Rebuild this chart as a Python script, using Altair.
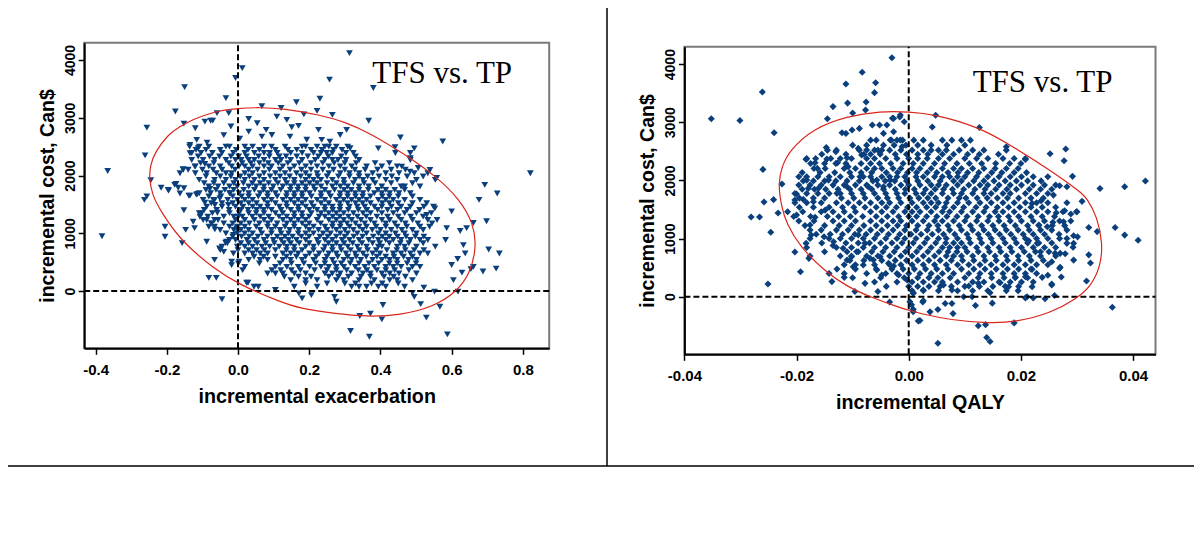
import altair as alt
import pandas as pd

# ---------------- data ----------------
Y_DOMAIN = [-990, 4300]
Y_TICKS = [0, 1000, 2000, 3000, 4000]
X_TICKS_EXAC = [-0.4, -0.2, 0.0, 0.2, 0.4, 0.6, 0.8]
X_TICKS_QALY = [-0.04, -0.02, 0.0, 0.02, 0.04]
X_DOMAIN_EXAC = [-0.432, 0.874]
X_DOMAIN_QALY = [-0.04, 0.044]
PANEL_LABEL = "TFS vs. TP"
Y_TITLE = "incremental cost, Can$"
X_TITLE_EXAC = "incremental exacerbation"
X_TITLE_QALY = "incremental QALY"

# left panel: sparse / outlying simulations (incremental exacerbation, incremental cost)
EXAC_SPARSE = [
    (0.313, 4120), (0.012, 3860), (-0.007, 3690), (0.257, 3660), (0.380, 3515), (-0.150, 3530),
    (-0.034, 3340), (0.230, 3330), (0.164, 3270), (0.067, 3200), (0.121, 3170), (-0.176, 3110),
    (-0.026, 3080), (-0.059, 3080), (0.222, 3120), (0.265, 3050), (0.185, 3060), (0.367, 2950),
    (-0.256, 2830), (-0.152, 2900), (-0.120, 2820), (-0.077, 2950), (0.575, 2590), (0.456, 2660),
    (0.394, 2470), (0.495, 2470), (0.484, 2300), (-0.261, 2350), (-0.366, 2080), (0.821, 2040),
    (-0.245, 1920), (0.693, 1840), (0.728, 1690), (0.677, 1580), (-0.263, 1580), (-0.256, 1640),
    (-0.382, 950), (0.698, 1210), (0.661, 1180), (0.600, 1380), (0.642, 1090), (0.586, 1090),
    (0.704, 720), (0.734, 650), (0.725, 390), (0.688, 340), (0.661, 420), (0.629, 320),
    (0.605, 190), (0.618, -10), (0.588, -750), (0.567, -270), (0.529, -460), (0.513, -225),
    (0.552, -10), (0.522, 60), (0.495, -100), (0.490, -30), (0.407, -240), (0.404, -490),
    (0.372, -390), (0.342, -430), (0.369, -790), (0.316, -690), (0.276, -185), (0.271, -100),
    (0.180, -125), (0.171, -40), (0.206, -70), (-0.045, -140), (0.105, 20), (0.045, 75),
    (0.028, 145), (-0.082, 230), (-0.061, 230), (-0.018, 450), (0.003, 510), (-0.066, 540),
    (-0.050, 710), (-0.040, 680), (-0.088, 855), (-0.157, 830), (-0.205, 940), (-0.205, 1115),
    (-0.147, 1060), (-0.122, 1090), (-0.152, 1400), (-0.163, 1690), (-0.152, 1780), (-0.138, 1650),
    (-0.114, 1680), (-0.216, 1790), (-0.195, 1740), (-0.178, 1840), (-0.168, 1790), (-0.154, 2100),
    (0.539, 2097), (0.558, 1958), (0.483, 2068), (0.506, 2130), (0.460, 2154), (0.583, 884),
    (0.617, 555), (0.600, 451), (0.633, 797), (0.638, 653), (0.624, 1040), (0.553, 1433),
    (0.530, 1317), (0.654, 381), (-0.035, 838), (-0.052, 740), (-0.018, 508), (0.001, 480),
    (0.013, 364), (0.024, 144), (0.057, 75), (-0.093, 2934), (-0.071, 2952), (0.054, 2906),
    (0.079, 2790), (0.109, 3021), (0.137, 2964), (0.170, 2860), (0.226, 2790), (0.067, 2674),
    (0.095, 2703), (-0.116, 2617), (-0.135, 2530), (-0.087, 2570), (0.151, 2837), (0.305, 2790),
    (0.287, 2703), (0.258, 2588), (0.235, 2617), (0.146, 2674), (0.315, 2473), (0.441, 2490),
    (0.193, 2620), (0.030, 2760), (0.005, 2640), (-0.040, 2700), (-0.020, 2850), (0.030, 2980),
    (-0.196, 1750), (-0.174, 1854), (-0.135, 1652), (-0.117, 1670), (-0.093, 2201), (-0.121, 2154),
    (-0.154, 2109), (-0.135, 2386), (-0.112, 2473), (-0.093, 1530), (-0.079, 1768), (-0.065, 1490),
    (-0.058, 1357), (-0.088, 1230), (-0.074, 1173), (-0.065, 1069), (-0.032, 855), (-0.013, 971),
    (-0.004, 1087), (0.001, 1288), (-0.107, 1288), (-0.126, 1201), (-0.102, 1347), (-0.069, 1577),
    (-0.051, 1607), (-0.027, 1490), (-0.022, 1693),
]

# left panel: dense core, read row by row (incremental cost, [incremental exacerbation ...])
EXAC_CORE = [
    (2500, [-0.136, -0.109, -0.082, -0.034, -0.024, 0.019, 0.041, 0.073, 0.094, 0.132, 0.180, 0.190, 0.222, 0.244, 0.255, 0.276, 0.308]),
    (2390, [-0.130, -0.104, -0.072, -0.045, -0.013, 0.019, 0.046, 0.073, 0.089, 0.110, 0.148, 0.180, 0.212, 0.233, 0.249, 0.265, 0.303, 0.324, 0.442, 0.484]),
    (2270, [-0.130, -0.098, -0.066, -0.034, -0.007, 0.009, 0.030, 0.046, 0.073, 0.105, 0.121, 0.148, 0.180, 0.217, 0.244, 0.265, 0.281, 0.303, 0.340, 0.484]),
    (2160, [-0.120, -0.082, -0.050, -0.018, 0.003, 0.019, 0.041, 0.073, 0.094, 0.126, 0.158, 0.190, 0.222, 0.255, 0.287, 0.319, 0.361, 0.404, 0.447]),
    (2040, [-0.163, -0.120, -0.088, -0.061, -0.034, -0.018, 0.019, 0.041, 0.073, 0.105, 0.132, 0.164, 0.190, 0.222, 0.255, 0.287, 0.313, 0.340, 0.378, 0.415, 0.452, 0.495, 0.533]),
    (1925, [-0.109, -0.066, -0.034, -0.007, 0.019, 0.046, 0.073, 0.105, 0.132, 0.158, 0.190, 0.212, 0.233, 0.265, 0.297, 0.329, 0.351, 0.378, 0.415, 0.447, 0.501, 0.554]),
    (1810, [-0.082, -0.056, -0.024, -0.002, 0.030, 0.051, 0.073, 0.099, 0.126, 0.148, 0.169, 0.190, 0.212, 0.233, 0.265, 0.287, 0.308, 0.340, 0.367, 0.404, 0.458, 0.468, 0.511]),
    (1695, [-0.109, -0.077, -0.050, -0.024, 0.003, 0.030, 0.062, 0.083, 0.105, 0.137, 0.158, 0.180, 0.201, 0.233, 0.255, 0.287, 0.308, 0.329, 0.351, 0.383, 0.404, 0.426, 0.452, 0.484]),
    (1580, [-0.098, -0.066, -0.029, -0.002, 0.019, 0.041, 0.073, 0.094, 0.126, 0.148, 0.169, 0.190, 0.222, 0.244, 0.276, 0.297, 0.319, 0.340, 0.361, 0.394, 0.415, 0.436, 0.468, 0.511]),
    (1460, [-0.088, -0.045, -0.007, 0.014, 0.041, 0.062, 0.083, 0.116, 0.137, 0.169, 0.190, 0.212, 0.244, 0.265, 0.287, 0.313, 0.335, 0.356, 0.383, 0.404, 0.431, 0.458, 0.484, 0.522, 0.549]),
    (1350, [-0.109, -0.072, -0.024, 0.003, 0.030, 0.051, 0.073, 0.105, 0.126, 0.158, 0.180, 0.206, 0.233, 0.255, 0.276, 0.297, 0.324, 0.351, 0.372, 0.404, 0.436, 0.468, 0.501, 0.543]),
    (1230, [-0.098, -0.066, -0.056, -0.007, 0.019, 0.046, 0.073, 0.094, 0.126, 0.148, 0.169, 0.190, 0.222, 0.255, 0.276, 0.297, 0.319, 0.345, 0.372, 0.404, 0.426, 0.458, 0.490, 0.533, 0.559]),
    (1115, [-0.082, -0.066, -0.024, -0.002, 0.019, 0.051, 0.083, 0.105, 0.132, 0.158, 0.190, 0.212, 0.244, 0.265, 0.287, 0.313, 0.340, 0.361, 0.388, 0.415, 0.447, 0.474, 0.511, 0.538]),
    (1000, [-0.034, -0.002, 0.019, 0.041, 0.067, 0.094, 0.121, 0.142, 0.169, 0.190, 0.212, 0.239, 0.260, 0.287, 0.308, 0.335, 0.361, 0.394, 0.415, 0.442, 0.468, 0.501]),
    (885, [-0.024, -0.007, 0.025, 0.046, 0.073, 0.099, 0.121, 0.142, 0.164, 0.190, 0.222, 0.244, 0.265, 0.292, 0.313, 0.340, 0.367, 0.394, 0.415, 0.436, 0.458, 0.484, 0.511, 0.533]),
    (770, [-0.045, -0.002, 0.019, 0.041, 0.067, 0.089, 0.116, 0.137, 0.158, 0.190, 0.212, 0.244, 0.265, 0.287, 0.308, 0.335, 0.361, 0.394, 0.404, 0.447, 0.468, 0.501, 0.554]),
    (650, [-0.013, 0.019, 0.041, 0.062, 0.083, 0.126, 0.148, 0.169, 0.201, 0.228, 0.255, 0.276, 0.303, 0.329, 0.351, 0.378, 0.399, 0.436, 0.458, 0.484, 0.511, 0.533]),
    (540, [0.030, 0.062, 0.083, 0.126, 0.148, 0.180, 0.212, 0.244, 0.265, 0.297, 0.319, 0.345, 0.378, 0.404, 0.426, 0.447, 0.479, 0.501]),
    (420, [0.019, 0.105, 0.137, 0.169, 0.201, 0.233, 0.255, 0.276, 0.297, 0.329, 0.356, 0.383, 0.415, 0.436, 0.458, 0.490, 0.511]),
    (305, [0.083, 0.105, 0.126, 0.158, 0.190, 0.244, 0.265, 0.287, 0.319, 0.351, 0.372, 0.404, 0.426, 0.452, 0.501]),
    (190, [0.148, 0.190, 0.222, 0.276, 0.297, 0.340, 0.383, 0.426, 0.447, 0.490]),
    (75, [0.158, 0.222, 0.319, 0.340, 0.361, 0.394, 0.415, 0.468]),
]

# left panel: the overlapping points between the rows above (estimated)
EXAC_CORE_B = [
    (2445, [-0.118, -0.090, -0.050, -0.005, 0.028, 0.060, 0.105, 0.140, 0.165, 0.205, 0.236, 0.268, 0.292]),
    (2330, [-0.112, -0.080, -0.052, -0.020, 0.002, 0.024, 0.058, 0.088, 0.116, 0.135, 0.165, 0.196, 0.226, 0.254, 0.290, 0.330]),
    (2215, [-0.105, -0.068, -0.026, 0.012, 0.036, 0.060, 0.085, 0.113, 0.140, 0.172, 0.205, 0.238, 0.270, 0.300, 0.332, 0.385, 0.425]),
    (2100, [-0.140, -0.100, -0.070, -0.045, -0.008, 0.030, 0.055, 0.088, 0.118, 0.146, 0.178, 0.205, 0.238, 0.268, 0.300, 0.328, 0.357, 0.392, 0.430, 0.470]),
    (1983, [-0.090, -0.050, -0.020, 0.006, 0.032, 0.060, 0.090, 0.118, 0.145, 0.176, 0.200, 0.224, 0.250, 0.282, 0.313, 0.340, 0.364, 0.396, 0.432, 0.475, 0.520]),
    (1868, [-0.095, -0.068, -0.040, -0.012, 0.015, 0.040, 0.062, 0.086, 0.112, 0.137, 0.158, 0.180, 0.201, 0.222, 0.250, 0.276, 0.298, 0.324, 0.354, 0.385, 0.430, 0.490]),
    (1752, [-0.090, -0.062, -0.037, -0.012, 0.016, 0.046, 0.072, 0.094, 0.120, 0.147, 0.168, 0.190, 0.216, 0.244, 0.271, 0.298, 0.318, 0.340, 0.366, 0.393, 0.415, 0.440, 0.468]),
    (1638, [-0.082, -0.048, -0.015, 0.010, 0.030, 0.057, 0.083, 0.110, 0.136, 0.158, 0.180, 0.206, 0.233, 0.260, 0.286, 0.308, 0.330, 0.350, 0.372, 0.405, 0.425, 0.450, 0.490]),
    (1520, [-0.075, -0.045, -0.015, 0.008, 0.030, 0.052, 0.083, 0.105, 0.136, 0.158, 0.180, 0.206, 0.233, 0.255, 0.286, 0.308, 0.330, 0.350, 0.372, 0.405, 0.425, 0.450, 0.490, 0.530]),
    (1405, [-0.095, -0.060, -0.025, 0.008, 0.028, 0.052, 0.072, 0.094, 0.121, 0.148, 0.170, 0.200, 0.222, 0.244, 0.266, 0.286, 0.310, 0.338, 0.362, 0.392, 0.420, 0.448, 0.475, 0.510]),
    (1290, [-0.085, -0.040, -0.012, 0.012, 0.040, 0.062, 0.086, 0.115, 0.137, 0.158, 0.180, 0.200, 0.228, 0.244, 0.266, 0.286, 0.310, 0.335, 0.360, 0.390, 0.420, 0.450, 0.485, 0.520]),
    (1172, [-0.075, -0.040, -0.015, 0.008, 0.032, 0.060, 0.084, 0.110, 0.137, 0.158, 0.180, 0.200, 0.232, 0.266, 0.288, 0.306, 0.330, 0.356, 0.383, 0.415, 0.440, 0.470, 0.505, 0.545]),
    (1058, [-0.050, -0.012, 0.008, 0.030, 0.062, 0.094, 0.118, 0.145, 0.170, 0.200, 0.226, 0.250, 0.276, 0.300, 0.324, 0.350, 0.377, 0.400, 0.430, 0.460, 0.490, 0.520]),
    (943, [-0.015, 0.010, 0.032, 0.056, 0.083, 0.110, 0.132, 0.153, 0.178, 0.200, 0.230, 0.252, 0.276, 0.300, 0.325, 0.350, 0.380, 0.405, 0.425, 0.448, 0.472, 0.498, 0.522]),
    (828, [-0.030, 0.008, 0.030, 0.054, 0.078, 0.102, 0.128, 0.148, 0.172, 0.200, 0.226, 0.254, 0.276, 0.298, 0.322, 0.348, 0.378, 0.398, 0.425, 0.456, 0.480, 0.520]),
    (710, [0.000, 0.030, 0.052, 0.074, 0.105, 0.136, 0.158, 0.180, 0.212, 0.240, 0.265, 0.290, 0.316, 0.340, 0.364, 0.388, 0.418, 0.446, 0.470, 0.495, 0.522]),
    (595, [0.045, 0.072, 0.105, 0.136, 0.164, 0.190, 0.220, 0.250, 0.280, 0.308, 0.332, 0.360, 0.390, 0.415, 0.438, 0.465, 0.490]),
    (480, [0.060, 0.118, 0.150, 0.185, 0.218, 0.244, 0.270, 0.290, 0.315, 0.340, 0.368, 0.395, 0.425, 0.447, 0.475, 0.500]),
    (362, [0.095, 0.120, 0.150, 0.175, 0.215, 0.250, 0.276, 0.305, 0.338, 0.362, 0.390, 0.415, 0.440, 0.480]),
    (248, [0.130, 0.170, 0.205, 0.255, 0.282, 0.310, 0.345, 0.372, 0.410, 0.437, 0.470]),
    (132, [0.190, 0.250, 0.300, 0.330, 0.375, 0.405, 0.450]),
]

# left panel: red confidence ellipse, traced around (exacerbation, cost)
EXAC_ELLIPSE = [
    (-0.250, 1960), (-0.246, 2180), (-0.234, 2397), (-0.196, 2716), (-0.163, 2847), (-0.131, 2960),
    (-0.069, 3107), (0.001, 3166), (0.060, 3180), (0.127, 3160), (0.230, 3050), (0.300, 2930),
    (0.371, 2733), (0.464, 2386), (0.558, 1981), (0.624, 1577), (0.661, 1173), (0.670, 768),
    (0.652, 307), (0.614, -12), (0.549, -272), (0.456, -416), (0.362, -445), (0.268, -386),
    (0.174, -300), (0.118, -185), (0.006, 104), (-0.069, 393), (-0.163, 884), (-0.219, 1404),
    (-0.240, 1650),
]

# right panel: sparse / outlying simulations (incremental QALY, incremental cost)
QALY_SPARSE = [
    (-0.0030, 4110), (-0.0083, 3860), (-0.0059, 3680), (-0.0112, 3660), (-0.0061, 3510), (-0.0261, 3520),
    (-0.0076, 3350), (-0.0109, 3330), (-0.0135, 3270), (-0.0077, 3210), (-0.0100, 3160), (-0.0352, 3060),
    (-0.0301, 3030), (-0.0145, 3060), (-0.0029, 3070), (-0.0016, 3090), (0.0048, 3120), (-0.0240, 2820),
    (-0.0119, 2820), (0.0042, 2920), (0.0126, 2910), (-0.0260, 2190), (-0.0226, 1940), (-0.0258, 1630),
    (-0.0241, 1670), (-0.0281, 1370), (-0.0266, 1370), (-0.0233, 1440), (-0.0246, 1110), (-0.0251, 220),
    (-0.0203, 770), (-0.0193, 430), (-0.0178, 660), (-0.0137, 260), (-0.0096, 90), (-0.0055, 90),
    (-0.0034, -90), (-0.0078, 230), (0.0385, 1890), (0.0422, 1990), (0.0341, 1860), (0.0309, 1640),
    (0.0368, 1190), (0.0385, 1060), (0.0409, 970), (0.0336, 1120), (0.0321, 1190), (0.0324, 580),
    (0.0321, 720), (0.0317, 270), (0.0363, -180), (0.0300, 1460), (0.0294, 630), (0.0292, 2070),
    (0.0282, 1890), (0.0280, 2540), (0.0277, 2340), (0.0252, 2460), (0.0269, 1910), (0.0208, 2360),
    (0.0174, 2580), (0.0301, 1030), (0.0188, -450), (0.0145, -770), (0.0139, -700), (0.0124, -500),
    (0.0137, -480), (0.0052, -800), (0.0079, -290), (0.0077, -115), (0.0052, -220), (0.0038, -260),
    (0.0020, -410), (0.0025, -90), (0.0005, -140), (0.0119, -150), (0.0149, -110), (0.0243, -35),
    (0.0222, -20), (0.0208, -20), (0.0260, 20), (0.0255, 220), (0.0272, 340), (0.0248, 370),
    (0.0269, 490), (0.0293, 850), (0.0279, 740),
    (-0.0088, 2895), (-0.0101, 2866), (-0.0112, 2809), (-0.0065, 2952), (-0.0052, 2952), (-0.0039, 2952),
    (-0.0027, 3067), (-0.0015, 3124), (-0.0008, 3009), (-0.0147, 2568), (-0.0130, 2493), (-0.0183, 2362),
    (-0.0167, 2304), (-0.0163, 2207), (-0.0146, 2367), (-0.0127, 2304), (-0.0110, 2390), (-0.0108, 2235),
    (-0.0090, 2551), (-0.0084, 2436), (-0.0075, 2522), (-0.0033, 2694), (-0.0045, 2809), (-0.0027, 2837),
    (-0.0015, 2694), (-0.0012, 2579), (-0.0182, 2006), (-0.0179, 1864), (-0.0200, 1766), (-0.0161, 1864),
    (-0.0143, 2006), (-0.0128, 1778), (-0.0110, 1891), (-0.0087, 2063), (-0.0072, 1891), (-0.0057, 2006),
    (-0.0045, 1891), (-0.0033, 2006),
    (-0.0183, 918), (-0.0174, 1061), (-0.0176, 1233), (-0.0167, 1365), (-0.0200, 1405), (-0.0203, 1662),
    (-0.0188, 1674), (-0.0170, 1633), (-0.0149, 1490), (-0.0151, 1031), (-0.0134, 946), (-0.0135, 880),
    (-0.0117, 832), (-0.0115, 333), (-0.0099, 516), (-0.0081, 545), (-0.0063, 631), (-0.0048, 373),
    (-0.0057, 459), (-0.0027, 528), (-0.0018, 373), (-0.0003, 287), (0.0008, 58), (0.0002, -86),
    (0.0008, -258), (0.0017, -418), (-0.0090, 1061), (-0.0078, 918), (-0.0069, 660), (-0.0102, 688),
    (-0.0110, 631), (-0.0093, 774), (-0.0051, 688), (-0.0036, 574),
    (0.0065, -115), (0.0008, -217), (0.0026, -69), (0.0211, 0), (0.0255, 201), (0.0238, 333),
    (0.0220, 172), (0.0270, 505), (0.0255, 602), (0.0270, 746), (0.0299, 1461), (0.0289, 1422),
    (0.0278, 1479), (0.0263, 1444), (0.0258, 1748), (0.0236, 1650), (0.0220, 1605), (0.0294, 1049),
    (0.0282, 918), (0.0261, 746), (0.0294, 918), (0.0247, 1204), (0.0257, 1279), (0.0276, 1290),
    (0.0232, 1233), (0.0214, 963), (0.0229, 918), (0.0235, 774), (0.0220, 471), (0.0208, 344),
    (0.0190, 333), (0.0178, 172), (0.0163, 241), (0.0145, 69), (0.0124, 230), (0.0107, 184),
    (0.0113, 0), (0.0098, 0), (0.0077, 115), (0.0062, 201), (0.0026, 115), (0.0008, 69),
]

# right panel: dense core, row by row (incremental cost, [incremental QALY ...])
QALY_CORE = [
    (2693, [-0.0068, -0.0058, -0.0031, -0.0021, -0.0011, 0.0009, 0.0026, 0.0060, 0.0077, 0.0094, 0.0110]),
    (2521, [-0.0145, -0.0129, -0.0088, -0.0061, -0.0055, -0.0048, -0.0034, -0.0014, 0.0006, 0.0026, 0.0040, 0.0053, 0.0067, 0.0090, 0.0114, 0.0134, 0.0174]),
    (2378, [-0.0182, -0.0166, -0.0139, -0.0122, -0.0102, -0.0075, -0.0061, -0.0041, -0.0021, 0.0000, 0.0016, 0.0033, 0.0053, 0.0073, 0.0100, 0.0121, 0.0141, 0.0168, 0.0188, 0.0208]),
    (2206, [-0.0169, -0.0149, -0.0115, -0.0095, -0.0075, -0.0061, -0.0048, -0.0028, -0.0014, 0.0006, 0.0020, 0.0040, 0.0060, 0.0080, 0.0094, 0.0114, 0.0134, 0.0154, 0.0174, 0.0195]),
    (2063, [-0.0196, -0.0182, -0.0162, -0.0142, -0.0122, -0.0102, -0.0081, -0.0068, -0.0048, -0.0034, -0.0021, -0.0007, 0.0013, 0.0026, 0.0046, 0.0060, 0.0073, 0.0087, 0.0100, 0.0121, 0.0141, 0.0161, 0.0181, 0.0201, 0.0222, 0.0248]),
    (1920, [-0.0196, -0.0176, -0.0156, -0.0135, -0.0115, -0.0095, -0.0075, -0.0055, -0.0034, -0.0014, 0.0000, 0.0020, 0.0040, 0.0053, 0.0067, 0.0087, 0.0107, 0.0127, 0.0141, 0.0161, 0.0181, 0.0201, 0.0222, 0.0242, 0.0262]),
    (1776, [-0.0203, -0.0182, -0.0162, -0.0142, -0.0122, -0.0102, -0.0081, -0.0061, -0.0041, -0.0021, -0.0007, 0.0013, 0.0026, 0.0040, 0.0060, 0.0080, 0.0094, 0.0114, 0.0134, 0.0147, 0.0168, 0.0181, 0.0208, 0.0228, 0.0248]),
    (1616, [-0.0203, -0.0182, -0.0156, -0.0129, -0.0108, -0.0088, -0.0068, -0.0048, -0.0034, -0.0014, 0.0006, 0.0026, 0.0040, 0.0053, 0.0067, 0.0087, 0.0107, 0.0127, 0.0147, 0.0168, 0.0188, 0.0208, 0.0228, 0.0248, 0.0282]),
    (1461, [-0.0216, -0.0189, -0.0156, -0.0135, -0.0115, -0.0095, -0.0068, -0.0048, -0.0028, -0.0007, 0.0006, 0.0020, 0.0040, 0.0060, 0.0073, 0.0094, 0.0114, 0.0134, 0.0154, 0.0168, 0.0188, 0.0208, 0.0228, 0.0248, 0.0275]),
    (1301, [-0.0196, -0.0169, -0.0135, -0.0115, -0.0095, -0.0068, -0.0048, -0.0028, -0.0014, 0.0006, 0.0026, 0.0046, 0.0060, 0.0080, 0.0100, 0.0121, 0.0141, 0.0161, 0.0181, 0.0201, 0.0222, 0.0242, 0.0269, 0.0289]),
    (1146, [-0.0176, -0.0156, -0.0129, -0.0108, -0.0088, -0.0068, -0.0048, -0.0028, -0.0007, 0.0013, 0.0033, 0.0053, 0.0073, 0.0094, 0.0114, 0.0134, 0.0154, 0.0174, 0.0195, 0.0215, 0.0235, 0.0255, 0.0282]),
    (1003, [-0.0176, -0.0142, -0.0122, -0.0102, -0.0081, -0.0061, -0.0041, -0.0021, -0.0007, 0.0013, 0.0033, 0.0053, 0.0067, 0.0087, 0.0107, 0.0127, 0.0147, 0.0168, 0.0188, 0.0208, 0.0228, 0.0248, 0.0269, 0.0282]),
    (848, [-0.0182, -0.0129, -0.0102, -0.0081, -0.0061, -0.0041, -0.0021, 0.0000, 0.0020, 0.0040, 0.0060, 0.0073, 0.0087, 0.0100, 0.0121, 0.0141, 0.0161, 0.0181, 0.0201, 0.0222, 0.0242, 0.0262]),
    (699, [-0.0176, -0.0122, -0.0102, -0.0075, -0.0055, -0.0034, -0.0014, 0.0006, 0.0026, 0.0046, 0.0067, 0.0080, 0.0094, 0.0114, 0.0134, 0.0154, 0.0174, 0.0195, 0.0215, 0.0235, 0.0262]),
    (550, [-0.0115, -0.0095, -0.0061, -0.0034, -0.0014, 0.0006, 0.0026, 0.0046, 0.0067, 0.0087, 0.0107, 0.0127, 0.0147, 0.0168, 0.0188, 0.0208, 0.0228, 0.0248]),
    (401, [-0.0142, -0.0115, -0.0075, -0.0041, -0.0021, 0.0000, 0.0020, 0.0040, 0.0060, 0.0080, 0.0107, 0.0127, 0.0147, 0.0168, 0.0188, 0.0208, 0.0228]),
    (252, [-0.0061, -0.0021, 0.0006, 0.0026, 0.0046, 0.0060, 0.0087, 0.0114, 0.0134, 0.0161, 0.0181, 0.0201, 0.0222]),
    (103, [0.0006, 0.0026, 0.0053, 0.0087, 0.0114, 0.0141, 0.0174, 0.0195]),
]

# right panel: the overlapping points between the rows above (estimated)
QALY_CORE_B = [
    (2607, [-0.0100, -0.0075, -0.0045, -0.0026, -0.0005, 0.0016, 0.0040, 0.0068, 0.0100]),
    (2450, [-0.0155, -0.0112, -0.0080, -0.0068, -0.0051, -0.0024, -0.0004, 0.0016, 0.0034, 0.0060, 0.0080, 0.0105, 0.0126, 0.0160]),
    (2292, [-0.0175, -0.0150, -0.0130, -0.0112, -0.0085, -0.0068, -0.0052, -0.0032, -0.0010, 0.0008, 0.0026, 0.0046, 0.0064, 0.0086, 0.0108, 0.0130, 0.0155, 0.0180, 0.0200]),
    (2135, [-0.0190, -0.0158, -0.0132, -0.0105, -0.0085, -0.0066, -0.0040, -0.0020, -0.0002, 0.0014, 0.0033, 0.0050, 0.0070, 0.0088, 0.0105, 0.0125, 0.0148, 0.0166, 0.0188, 0.0210]),
    (1992, [-0.0188, -0.0170, -0.0150, -0.0130, -0.0110, -0.0088, -0.0064, -0.0042, -0.0025, -0.0004, 0.0016, 0.0034, 0.0056, 0.0080, 0.0094, 0.0116, 0.0134, 0.0152, 0.0172, 0.0192, 0.0212, 0.0236]),
    (1848, [-0.0190, -0.0168, -0.0148, -0.0126, -0.0105, -0.0085, -0.0066, -0.0045, -0.0024, -0.0006, 0.0010, 0.0030, 0.0047, 0.0062, 0.0078, 0.0098, 0.0118, 0.0136, 0.0155, 0.0175, 0.0192, 0.0215, 0.0235, 0.0255]),
    (1696, [-0.0195, -0.0170, -0.0150, -0.0120, -0.0098, -0.0078, -0.0055, -0.0038, -0.0018, 0.0002, 0.0018, 0.0034, 0.0048, 0.0070, 0.0090, 0.0102, 0.0122, 0.0140, 0.0158, 0.0176, 0.0196, 0.0218, 0.0240]),
    (1538, [-0.0195, -0.0170, -0.0142, -0.0118, -0.0098, -0.0078, -0.0058, -0.0040, -0.0022, -0.0002, 0.0014, 0.0032, 0.0048, 0.0064, 0.0080, 0.0098, 0.0120, 0.0138, 0.0158, 0.0178, 0.0198, 0.0218, 0.0238, 0.0262]),
    (1381, [-0.0205, -0.0175, -0.0145, -0.0125, -0.0104, -0.0082, -0.0058, -0.0038, -0.0018, 0.0000, 0.0014, 0.0032, 0.0050, 0.0068, 0.0086, 0.0104, 0.0124, 0.0144, 0.0160, 0.0178, 0.0196, 0.0218, 0.0238, 0.0260]),
    (1223, [-0.0185, -0.0150, -0.0124, -0.0102, -0.0080, -0.0058, -0.0038, -0.0020, -0.0004, 0.0016, 0.0036, 0.0052, 0.0070, 0.0090, 0.0110, 0.0130, 0.0150, 0.0170, 0.0190, 0.0212, 0.0232, 0.0256, 0.0278]),
    (1075, [-0.0165, -0.0140, -0.0118, -0.0096, -0.0076, -0.0056, -0.0036, -0.0016, 0.0004, 0.0022, 0.0042, 0.0062, 0.0082, 0.0104, 0.0124, 0.0142, 0.0162, 0.0182, 0.0204, 0.0222, 0.0242, 0.0268]),
    (925, [-0.0155, -0.0112, -0.0090, -0.0070, -0.0050, -0.0030, -0.0012, 0.0008, 0.0028, 0.0048, 0.0066, 0.0080, 0.0094, 0.0110, 0.0130, 0.0150, 0.0172, 0.0192, 0.0212, 0.0232, 0.0255]),
    (773, [-0.0150, -0.0110, -0.0090, -0.0066, -0.0046, -0.0026, -0.0006, 0.0014, 0.0034, 0.0054, 0.0070, 0.0086, 0.0104, 0.0124, 0.0144, 0.0164, 0.0184, 0.0206, 0.0226, 0.0250]),
    (625, [-0.0105, -0.0080, -0.0048, -0.0024, -0.0004, 0.0016, 0.0036, 0.0056, 0.0076, 0.0096, 0.0116, 0.0136, 0.0156, 0.0176, 0.0196, 0.0218, 0.0240]),
    (475, [-0.0128, -0.0095, -0.0058, -0.0030, -0.0010, 0.0010, 0.0030, 0.0050, 0.0070, 0.0094, 0.0116, 0.0136, 0.0156, 0.0176, 0.0196, 0.0218]),
    (326, [-0.0100, -0.0050, -0.0008, 0.0016, 0.0036, 0.0052, 0.0074, 0.0100, 0.0124, 0.0148, 0.0170, 0.0190, 0.0212]),
    (178, [-0.0040, 0.0000, 0.0016, 0.0036, 0.0056, 0.0076, 0.0100, 0.0126, 0.0150, 0.0172, 0.0196]),
]

# right panel: red confidence ellipse, traced around (QALY, cost)
QALY_ELLIPSE = [
    (-0.0233, 1950), (-0.0226, 2250), (-0.0212, 2522), (-0.0170, 2895), (-0.0110, 3106), (-0.0051, 3192),
    (0.0002, 3180), (0.0044, 3141), (0.0127, 2912), (0.0181, 2610), (0.0252, 2178), (0.0306, 1805),
    (0.0318, 1692), (0.0336, 1375), (0.0346, 918), (0.0342, 516), (0.0324, 172), (0.0300, -28),
    (0.0252, -286), (0.0193, -430), (0.0145, -458), (0.0074, -401), (0.0020, -286), (0.0000, -235),
    (-0.0021, -172), (-0.0069, 0), (-0.0110, 172), (-0.0152, 459), (-0.0194, 860), (-0.0218, 1262),
    (-0.0227, 1550),
]

# ---------------- styling ----------------
POINT_COLOR = "#0a3f7c"
ELLIPSE_COLOR = "#d9261c"
SANS = "Liberation Sans"
SERIF = "Liberation Serif"
W, H = 1186, 524


def points_frame(sparse, *cores):
    rows = list(sparse)
    for core in cores:
        for cost, xs in core:
            rows.extend((x, cost) for x in xs)
    return pd.DataFrame(rows, columns=["x", "cost"])


def panel(pts_df, ellipse, xdom, xrange, yrange, xticks, ndec, xtitle,
          xoff, yoff, shape, size, label_xy):
    xs = alt.Scale(domain=xdom, range=xrange, nice=False, zero=False)
    ys = alt.Scale(domain=Y_DOMAIN, range=yrange, nice=False, zero=False)
    xax = alt.Axis(
        orient="bottom", offset=xoff, values=xticks, title=xtitle,
        labelExpr=f"(datum.value < 0 ? '-' : '') + format(abs(datum.value), '.{ndec}f')",
        grid=False, tickSize=6, tickWidth=1.5, tickColor="black", labelFlush=False,
        domainColor="black", domainWidth=2, labelPadding=8, titlePadding=9,
        labelFont=SANS, labelFontSize=15, labelFontWeight="bold", labelColor="black",
        titleFont=SANS, titleFontSize=19.7, titleFontWeight="bold", titleColor="black",
        zindex=1,
    )
    yax = alt.Axis(
        orient="left", offset=yoff, values=Y_TICKS, format="d", title=Y_TITLE,
        labelAngle=270, labelAlign="center", labelBaseline="bottom", labelFlush=False,
        grid=False, tickSize=6, tickWidth=1.5, tickColor="black",
        domainColor="black", domainWidth=2, labelPadding=1, titlePadding=6,
        labelFont=SANS, labelFontSize=14, labelFontWeight="bold", labelColor="black",
        titleFont=SANS, titleFontSize=19.5, titleFontWeight="bold", titleColor="black",
        zindex=1,
    )

    def X(f):
        return alt.X(f, type="quantitative", scale=xs, axis=xax)

    def Y(f):
        return alt.Y(f, type="quantitative", scale=ys, axis=yax)

    frame_df = pd.DataFrame({"x": [xdom[0]], "x2": [xdom[1]], "y": [Y_DOMAIN[0]], "y2": [Y_DOMAIN[1]]})
    frame = alt.Chart(frame_df).mark_rect(fillOpacity=0, stroke="#7a7a7a", strokeWidth=2).encode(
        x=X("x"), x2="x2", y=Y("y"), y2="y2")

    vline = alt.Chart(pd.DataFrame({"x": [0.0], "y": [Y_DOMAIN[0]], "y2": [Y_DOMAIN[1]]})).mark_rule(
        color="black", strokeWidth=2, strokeDash=[6, 3]).encode(x=X("x"), y=Y("y"), y2="y2")
    hline = alt.Chart(pd.DataFrame({"y": [0.0], "x": [xdom[0]], "x2": [xdom[1]]})).mark_rule(
        color="black", strokeWidth=2, strokeDash=[6, 3]).encode(y=Y("y"), x=X("x"), x2="x2")

    pts = alt.Chart(pts_df).mark_point(
        shape=shape, size=size, filled=True, color=POINT_COLOR, opacity=1, stroke=None
    ).encode(x=X("x"), y=Y("cost"))

    ell_df = pd.DataFrame(ellipse, columns=["x", "cost"])
    ell_df["i"] = range(len(ell_df))
    ell = alt.Chart(ell_df).mark_line(
        color=ELLIPSE_COLOR, strokeWidth=1.2, interpolate="basis-closed"
    ).encode(x=X("x"), y=Y("cost"), order="i:Q")

    lab = alt.Chart(pd.DataFrame({"x": [label_xy[0]], "cost": [label_xy[1]], "t": [PANEL_LABEL]})).mark_text(
        font=SERIF, fontSize=31, align="left", baseline="alphabetic", color="black"
    ).encode(x=X("x"), y=Y("cost"), text="t:N")

    return alt.layer(frame, pts, vline, hline, ell, lab)


left = panel(points_frame(EXAC_SPARSE, EXAC_CORE, EXAC_CORE_B), EXAC_ELLIPSE, X_DOMAIN_EXAC,
             [76.2, 541.2], [340.3, 34.7], X_TICKS_EXAC, 1, X_TITLE_EXAC,
             340.3 - H, -76.2, "triangle-down", 46, (0.377, 3600))
right = panel(points_frame(QALY_SPARSE, QALY_CORE, QALY_CORE_B), QALY_ELLIPSE, X_DOMAIN_QALY,
              [676.4, 1147.5], [346.3, 38.7], X_TICKS_QALY, 2, X_TITLE_QALY,
              346.3 - H, -676.4, "diamond", 50, (0.0114, 3526))

# table cell borders around the two panels
table = alt.layer(
    alt.Chart(pd.DataFrame({"k": [0]})).mark_rule(color="black", strokeWidth=1.5).encode(
        x=alt.value(599), y=alt.value(0), y2=alt.value(458)),
    alt.Chart(pd.DataFrame({"k": [0]})).mark_rule(color="black", strokeWidth=1.5).encode(
        x=alt.value(0), x2=alt.value(W), y=alt.value(458)),
)

chart = alt.layer(left, right, table).resolve_scale(
    x="independent", y="independent"
).resolve_axis(
    x="independent", y="independent"
).properties(
    width=W, height=H, padding=0, autosize=alt.AutoSizeParams(type="none")
).configure_view(stroke=None)

chart.save("out.html", embed_options={"renderer": "svg", "actions": False})
